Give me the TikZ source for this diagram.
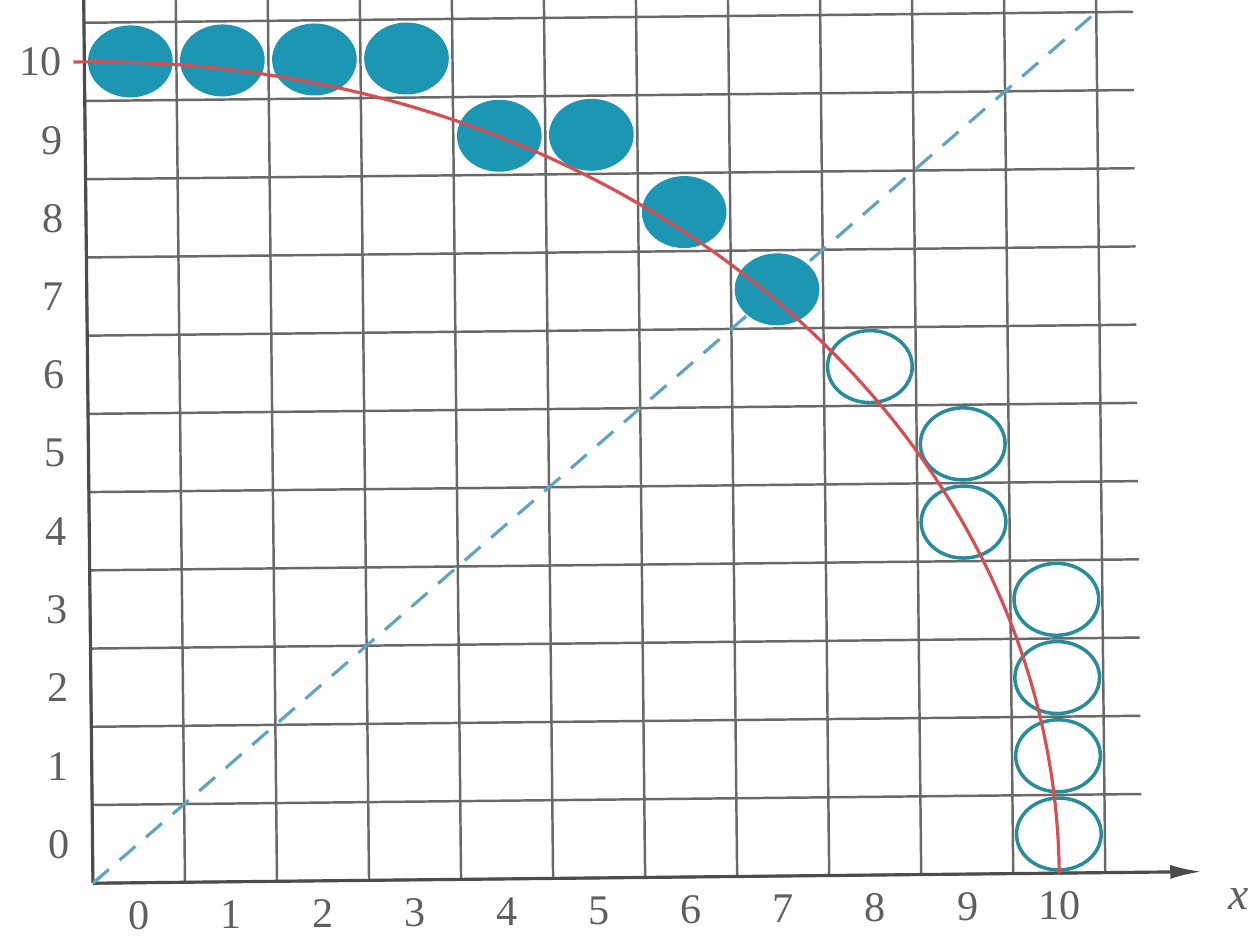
\documentclass[tikz,border=0pt]{standalone}
\usepackage{fontspec}
\setmainfont{Liberation Serif}
\usetikzlibrary{arrows.meta}

\definecolor{pixfill}{RGB}{28,150,178}
\definecolor{pixline}{RGB}{40,140,155}
\definecolor{arcred}{RGB}{212,78,82}
\definecolor{diagblue}{RGB}{95,165,195}
\definecolor{gridgray}{RGB}{105,105,105}
\definecolor{labelgray}{RGB}{95,95,95}

\begin{document}
\begin{tikzpicture}[x=0.92cm, y=0.782cm,
    filledpix/.style={fill=pixfill},
    openpix/.style={draw=pixline, line width=1pt},
    numlabel/.style={text=labelgray, font=\fontsize{12}{14}\selectfont, inner sep=0pt}]

  \useasboundingbox (-1.01,-0.77) rectangle (12.68,11.29);
  \clip (-1.01,-0.77) rectangle (12.68,11.29);

  \begin{scope}[rotate=0.6]

  % Grid of pixels
  \draw[gridgray, line width=0.7pt, step=1] (0,0) grid (11.4,11.6);

  % Axes
  \draw[-{Latex[length=9pt,width=4pt]}, line width=0.9pt, black!70] (0,0) -- (12.05,0);
  \draw[line width=0.9pt, black!70] (0,0) -- (0,11.6);

  % Diagonal y = x
  \draw[diagblue, dash pattern=on 6pt off 4pt, line width=0.9pt] (0,0) -- (11,11);

  % Pixels above the diagonal (filled)
  \fill[filledpix] (0.5,10.5) circle (0.46);
  \fill[filledpix] (1.5,10.5) circle (0.46);
  \fill[filledpix] (2.5,10.5) circle (0.46);
  \fill[filledpix] (3.5,10.5) circle (0.46);
  \fill[filledpix] (4.5,9.5) circle (0.46);
  \fill[filledpix] (5.5,9.5) circle (0.46);
  \fill[filledpix] (6.5,8.5) circle (0.46);
  \fill[filledpix] (7.5,7.5) circle (0.46);

  % Pixels below the diagonal (open)
  \draw[openpix] (8.5,6.5) circle (0.46);
  \draw[openpix] (9.5,5.5) circle (0.46);
  \draw[openpix] (9.5,4.5) circle (0.46);
  \draw[openpix] (10.5,3.5) circle (0.46);
  \draw[openpix] (10.5,2.5) circle (0.46);
  \draw[openpix] (10.5,1.5) circle (0.46);
  \draw[openpix] (10.5,0.5) circle (0.46);

  % Quarter circle
  \draw[arcred, line width=0.9pt] (-0.12,10.5) -- (0,10.5) arc (90:0:10.5);

  % Labels on x
  \node[numlabel] (xl0) at (0.5,-0.42) {0};
  \node[numlabel] (xl1) at (1.5,-0.42) {1};
  \node[numlabel] (xl2) at (2.5,-0.42) {2};
  \node[numlabel] (xl3) at (3.5,-0.42) {3};
  \node[numlabel] (xl4) at (4.5,-0.42) {4};
  \node[numlabel] (xl5) at (5.5,-0.42) {5};
  \node[numlabel] (xl6) at (6.5,-0.42) {6};
  \node[numlabel] (xl7) at (7.5,-0.42) {7};
  \node[numlabel] (xl8) at (8.5,-0.42) {8};
  \node[numlabel] (xl9) at (9.5,-0.42) {9};
  \node[numlabel] (xl10) at (10.5,-0.42) {10};
  \node[numlabel, font=\fontsize{13}{15}\selectfont\itshape] (xname) at (12.45,-0.36) {x};

  % Labels on y
  \node[numlabel, anchor=east] (yl0) at (-0.24,0.5) {0};
  \node[numlabel, anchor=east] (yl1) at (-0.24,1.5) {1};
  \node[numlabel, anchor=east] (yl2) at (-0.24,2.5) {2};
  \node[numlabel, anchor=east] (yl3) at (-0.24,3.5) {3};
  \node[numlabel, anchor=east] (yl4) at (-0.24,4.5) {4};
  \node[numlabel, anchor=east] (yl5) at (-0.24,5.5) {5};
  \node[numlabel, anchor=east] (yl6) at (-0.24,6.5) {6};
  \node[numlabel, anchor=east] (yl7) at (-0.24,7.5) {7};
  \node[numlabel, anchor=east] (yl8) at (-0.24,8.5) {8};
  \node[numlabel, anchor=east] (yl9) at (-0.24,9.5) {9};
  \node[numlabel, anchor=east] (yl10) at (-0.24,10.5) {10};

  \end{scope}

\end{tikzpicture}
\end{document}
